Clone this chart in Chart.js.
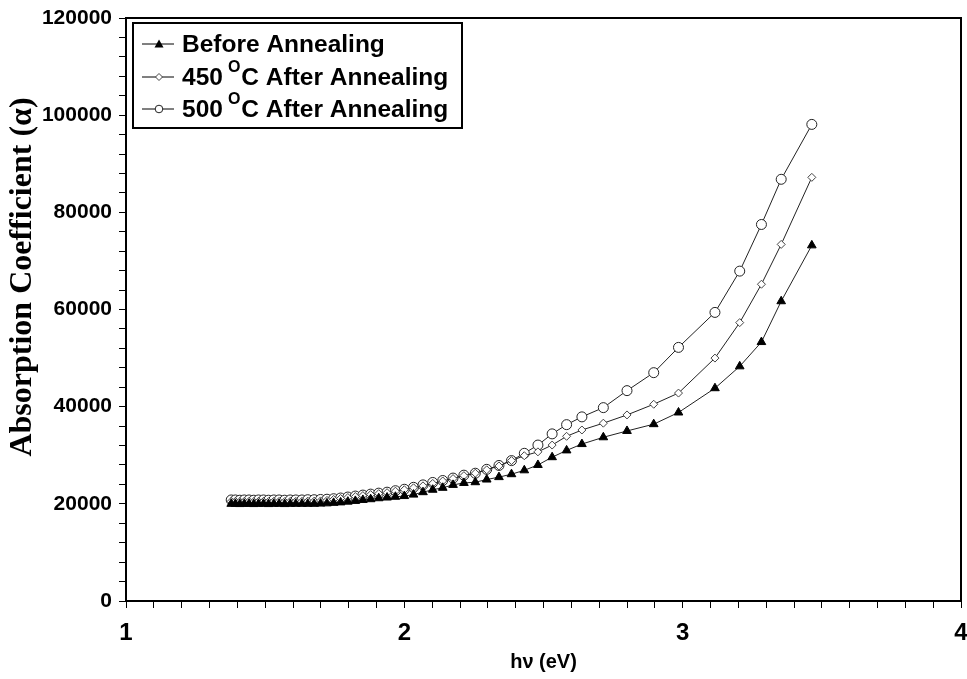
<!DOCTYPE html>
<html>
<head>
<meta charset="utf-8">
<script src="https://cdn.jsdelivr.net/npm/chart.js@4/dist/chart.umd.min.js"></script>
<style>
  html, body { margin: 0; padding: 0; background: #fff; }
  #wrap { width: 967px; height: 679px; }
</style>
</head>
<body>
<div id="wrap"><canvas id="c" width="967" height="679"></canvas></div>
<script>
// Photon energy hν (eV)
const energy = [1.378,1.393,1.409,1.425,1.442,1.459,1.476,1.494,1.512,1.531,1.550,1.570,1.590,1.610,1.632,1.653,1.676,1.699,1.722,1.746,1.771,1.797,1.824,1.851,1.879,1.908,1.938,1.968,2.000,2.033,2.067,2.102,2.138,2.175,2.214,2.255,2.296,2.340,2.385,2.431,2.480,2.531,2.583,2.638,2.715,2.800,2.896,2.985,3.116,3.205,3.283,3.354,3.464];
// Absorption coefficient values
const beforeAnnealing = [20000,20000,19950,20000,20000,19950,20000,20000,19950,20000,20000,19950,20000,20000,20000,20000,20000,20050,20100,20200,20300,20450,20600,20800,20950,21150,21300,21450,21600,21900,22400,22900,23300,23900,24300,24450,25000,25500,26100,26900,28000,29600,31000,32300,33700,35000,36400,38800,43800,48300,53300,61700,73200];
const after450 = [20500,20500,20450,20500,20500,20450,20500,20500,20450,20500,20500,20450,20500,20500,20500,20550,20550,20600,20700,20900,21100,21300,21500,21700,21900,22100,22300,22600,22900,23300,23700,24200,24700,25200,25800,26300,27000,27800,28900,29900,30700,32100,33900,35200,36600,38300,40500,42800,50000,57300,65200,73400,87200];
const after500 = [20800,20800,20750,20800,20800,20750,20800,20800,20750,20800,20800,20750,20800,20800,20800,20850,20850,20900,20950,21050,21200,21400,21600,21800,22000,22200,22400,22700,23000,23400,23900,24400,24800,25300,25900,26300,27100,27900,28900,30400,32100,34400,36300,37900,39800,43300,47000,52200,59400,67900,77500,86800,98100];
const seriesNames = ["Before Annealing", "450 °C After Annealing", "500 °C After Annealing"];
const xTickLabels = ["1","2","3","4"];
const yTickLabels = ["0","20000","40000","60000","80000","100000","120000"];
const xTitle = "hν (eV)";
const yTitle = "Absorption Coefficient (α)";

function pts(ys) { return energy.map((x, i) => ({ x: x, y: ys[i] })); }

const frameAndLegend = {
  id: 'frameAndLegend',
  beforeDatasetsDraw(chart) {
    const { ctx, chartArea: a } = chart;
    ctx.save();
    ctx.strokeStyle = '#000';
    ctx.lineWidth = 2;
    ctx.strokeRect(a.left, a.top, a.right - a.left, a.bottom - a.top);
    ctx.restore();
  },
  afterDraw(chart) {
    const ctx = chart.ctx;
    const a = chart.chartArea;
    // y-axis title
    ctx.save();
    ctx.translate(23, 277);
    ctx.rotate(-Math.PI / 2);
    ctx.fillStyle = '#000';
    ctx.textAlign = 'center';
    ctx.textBaseline = 'middle';
    ctx.font = 'bold 32px "Liberation Serif", "Times New Roman", serif';
    ctx.fillText(yTitle, 0, 0);
    ctx.restore();

    const bx = a.left + 7, by = a.top + 5, bw = 329, bh = 105;
    ctx.save();
    ctx.fillStyle = '#fff';
    ctx.fillRect(bx, by, bw, bh);
    ctx.strokeStyle = '#000';
    ctx.lineWidth = 2;
    ctx.strokeRect(bx, by, bw, bh);
    const rows = [by + 21, by + 54, by + 86];
    chart.data.datasets.forEach((ds, i) => {
      const y = rows[i];
      ctx.strokeStyle = '#000';
      ctx.lineWidth = 1;
      ctx.beginPath();
      ctx.moveTo(bx + 9, y);
      ctx.lineTo(bx + 41, y);
      ctx.stroke();
      const mx = bx + 26;
      ctx.beginPath();
      if (ds.pointStyle === 'triangle') {
        ctx.moveTo(mx, y - 4.5); ctx.lineTo(mx + 4.5, y + 3.5); ctx.lineTo(mx - 4.5, y + 3.5); ctx.closePath();
        ctx.fillStyle = '#000'; ctx.fill();
      } else if (ds.pointStyle === 'rectRot') {
        ctx.moveTo(mx, y - 3.5); ctx.lineTo(mx + 3.5, y); ctx.lineTo(mx, y + 3.5); ctx.lineTo(mx - 3.5, y); ctx.closePath();
        ctx.fillStyle = '#fff'; ctx.fill(); ctx.strokeStyle = '#444'; ctx.stroke();
      } else {
        ctx.arc(mx, y, 3.8, 0, Math.PI * 2);
        ctx.fillStyle = '#fff'; ctx.fill(); ctx.strokeStyle = '#222'; ctx.stroke();
      }
      ctx.fillStyle = '#000';
      ctx.textBaseline = 'middle';
      ctx.textAlign = 'left';
      const big = 'bold 24.5px "Liberation Sans", Arial, sans-serif';
      const small = 'bold 16px "Liberation Sans", Arial, sans-serif';
      let tx = bx + 49;
      const label = ds.label;
      const k = label.indexOf('°');
      ctx.font = big;
      if (k < 0) {
        ctx.fillText(label, tx, y + 1);
      } else {
        const pre = label.slice(0, k).trimEnd();
        const post = label.slice(k + 1);
        ctx.fillText(pre, tx, y + 1);
        tx += ctx.measureText(pre).width + 5;
        ctx.font = small;
        ctx.fillText('O', tx, y - 9);
        tx += ctx.measureText('O').width + 1;
        ctx.font = big;
        ctx.fillText(post, tx, y + 1);
      }
    });
    ctx.restore();
  }
};

const tickFont = { family: '"Liberation Sans", Arial, sans-serif', size: 21, weight: 'bold' };

new Chart(document.getElementById('c'), {
  type: 'scatter',
  data: {
    datasets: [
      { label: seriesNames[0], data: pts(beforeAnnealing), showLine: true, borderColor: '#222', borderWidth: 1,
        pointStyle: 'triangle', pointRadius: 5, pointBackgroundColor: '#000', pointBorderColor: '#000', pointBorderWidth: 1 },
      { label: seriesNames[1], data: pts(after450), showLine: true, borderColor: '#222', borderWidth: 1,
        pointStyle: 'rectRot', pointRadius: 4, pointBackgroundColor: '#fff', pointBorderColor: '#444', pointBorderWidth: 1 },
      { label: seriesNames[2], data: pts(after500), showLine: true, borderColor: '#222', borderWidth: 1,
        pointStyle: 'circle', pointRadius: 5, pointBackgroundColor: '#fff', pointBorderColor: '#222', pointBorderWidth: 1 }
    ]
  },
  options: {
    responsive: false,
    animation: false,
    layout: { padding: { top: 18, right: 4, left: 0, bottom: 0 } },
    plugins: { legend: { display: false }, tooltip: { enabled: false } },
    scales: {
      x: {
        type: 'linear', min: 1, max: 4,
        afterFit(s) { s.height = 78; s.paddingLeft = 0; s.paddingRight = 0; },
        ticks: {
          stepSize: 0.1, autoSkip: false, maxRotation: 0, color: '#000', padding: 11,
          font: { family: tickFont.family, size: 24, weight: 'bold' },
          callback(v) { const r = Math.round(v); return Math.abs(v - r) < 1e-6 ? xTickLabels[r - 1] : ''; }
        },
        grid: { drawOnChartArea: false, drawTicks: true, tickLength: 7, color: '#000', lineWidth: 1 },
        border: { display: true, color: '#000', width: 2 },
        title: { display: true, text: xTitle, color: '#000', font: { family: tickFont.family, size: 20, weight: 'bold' }, padding: { top: 0, bottom: 5 } }
      },
      y: {
        type: 'linear', min: 0, max: 120000,
        afterFit(s) { s.width = 126; s.paddingTop = 0; s.paddingBottom = 0; },
        ticks: {
          stepSize: 4000, autoSkip: false, color: '#000', padding: 7, font: tickFont,
          callback(v) { return v % 20000 === 0 ? yTickLabels[v / 20000] : ''; }
        },
        grid: { drawOnChartArea: false, drawTicks: true, tickLength: 7, color: '#000', lineWidth: 1 },
        border: { display: true, color: '#000', width: 2 },
        title: { display: false }
      }
    }
  },
  plugins: [frameAndLegend]
});
</script>
</body>
</html>
